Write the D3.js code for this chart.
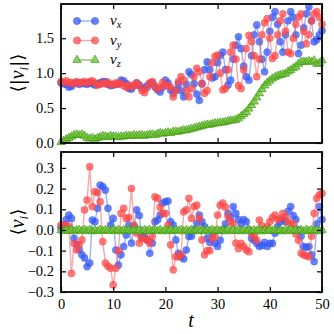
<!DOCTYPE html>
<html lang="en">
<head>
  <meta charset="UTF-8" />
  <title>Velocity components</title>
  <script src="https://d3js.org/d3.v7.min.js"></script>
  <style>
    body, html { margin: 0; padding: 0; background: #fff; }
    svg { display: block; }
    text { font-family: "Liberation Serif", "DejaVu Serif", serif; }
  </style>
</head>
<body>
  <svg id="chart" width="334" height="334"></svg>
  <script>
    // time grid (one sample every half unit)
    const times = d3.range(0, 50.01, 0.5);

    // top panel: <|v_i|>
    const absVx = [0.86,0.85,0.84,0.80,0.81,0.85,0.86,0.84,0.86,0.85,
      0.84,0.86,0.85,0.83,0.85,0.86,0.88,0.88,0.84,0.82,
      0.83,0.84,0.85,0.90,0.89,0.85,0.78,0.77,0.82,0.86,
      0.83,0.79,0.78,0.82,0.85,0.86,0.80,0.76,0.73,0.80,
      0.90,0.86,0.76,0.71,0.76,0.85,0.75,0.66,0.84,1.02,
      0.98,0.85,0.70,0.61,0.85,1.05,1.16,1.05,0.93,0.95,
      1.15,1.25,1.30,1.05,0.83,0.90,1.20,1.40,1.52,1.35,
      1.10,0.95,0.90,1.25,1.55,1.69,1.45,1.20,1.02,1.30,
      1.60,1.80,1.88,1.70,1.45,1.30,1.55,1.75,1.88,1.80,
      1.55,1.28,1.40,1.65,1.85,1.95,1.75,1.45,1.48,1.55,1.61];
    const absVy = [0.88,0.87,0.89,0.86,0.87,0.85,0.88,0.86,0.87,0.88,
      0.86,0.88,0.89,0.86,0.83,0.84,0.86,0.85,0.87,0.84,
      0.84,0.86,0.84,0.86,0.82,0.80,0.83,0.80,0.83,0.86,
      0.82,0.75,0.72,0.79,0.86,0.88,0.82,0.77,0.80,0.87,
      0.83,0.82,0.80,0.66,0.75,0.88,0.95,0.90,0.75,0.66,
      0.78,0.95,1.07,1.02,0.85,0.71,0.75,0.95,1.15,1.24,
      1.26,1.00,0.76,0.78,1.05,1.30,1.40,1.20,0.82,0.78,
      1.05,1.35,1.54,1.45,1.25,0.95,1.20,1.55,1.72,1.78,
      1.50,1.21,1.25,1.55,1.75,1.85,1.60,1.30,1.28,1.50,
      1.70,1.80,1.85,1.60,1.42,1.55,1.75,1.85,1.88,1.80,1.70];
    const absVz = [0.02,0.04,0.06,0.08,0.10,0.12,0.13,0.12,0.13,0.11,
      0.08,0.07,0.08,0.06,0.08,0.09,0.11,0.10,0.09,0.11,
      0.10,0.10,0.09,0.10,0.10,0.11,0.11,0.11,0.12,0.11,
      0.12,0.12,0.11,0.12,0.13,0.13,0.12,0.14,0.15,0.14,
      0.15,0.16,0.15,0.17,0.17,0.17,0.18,0.19,0.19,0.20,
      0.21,0.22,0.23,0.24,0.25,0.26,0.27,0.27,0.28,0.29,
      0.29,0.30,0.30,0.31,0.32,0.33,0.33,0.34,0.36,0.39,
      0.42,0.45,0.50,0.55,0.60,0.66,0.72,0.78,0.83,0.87,
      0.90,0.93,0.95,0.97,0.98,0.99,1.00,1.03,1.05,1.08,
      1.10,1.14,1.17,1.17,1.17,1.18,1.17,1.19,1.14,1.15,1.19];

    // bottom panel: <v_i>
    const meanVx = [0.010,0.024,0.050,0.072,0.056,-0.040,-0.070,-0.095,-0.120,-0.135,
      -0.177,-0.160,0.048,0.040,0.105,0.217,0.210,0.193,0.105,0.024,
      0.056,-0.097,-0.170,-0.120,-0.080,-0.024,0.024,-0.064,0.016,0.097,
      0.070,-0.032,-0.030,-0.048,-0.113,-0.064,0.040,0.048,0.072,0.130,
      0.137,0.140,0.040,0.024,-0.048,-0.113,-0.130,-0.140,-0.097,-0.032,
      -0.030,0.000,0.032,0.072,0.040,0.016,-0.040,-0.060,-0.020,-0.064,
      -0.080,-0.050,0.000,0.030,0.080,0.060,0.113,0.080,0.050,0.030,
      0.050,0.040,0.000,-0.040,-0.050,-0.065,-0.080,-0.075,-0.060,-0.080,
      -0.065,-0.065,-0.016,0.016,0.040,0.050,0.040,0.090,0.113,0.070,
      0.050,0.000,-0.030,-0.080,-0.085,-0.080,-0.120,-0.153,0.030,0.113,0.050];
    const meanVy = [0.024,0.020,0.024,0.018,-0.210,-0.065,-0.097,-0.072,-0.048,0.097,
      0.145,0.306,0.113,0.185,0.180,0.137,-0.056,-0.160,-0.175,-0.185,
      -0.266,-0.185,-0.100,0.080,0.105,0.056,0.060,0.200,0.024,-0.016,
      -0.064,-0.040,-0.040,-0.050,-0.064,-0.032,0.160,0.153,0.110,0.080,
      0.080,0.024,-0.072,-0.193,-0.129,-0.130,-0.120,0.088,0.097,0.153,
      0.056,0.113,0.120,0.056,-0.048,-0.120,-0.100,-0.100,-0.040,-0.030,
      0.072,0.120,0.130,0.110,0.065,0.040,0.030,-0.064,-0.090,-0.065,
      -0.080,-0.097,-0.105,-0.016,-0.030,-0.050,0.048,0.020,0.000,0.016,
      0.040,0.060,0.072,0.050,0.055,0.080,0.064,0.040,0.030,0.030,
      -0.020,-0.050,-0.113,-0.120,-0.125,-0.130,-0.030,0.080,0.153,0.170,0.177];
    const meanVz = [0.002,-0.003,0.004,-0.002,0.003,-0.004,0.002,0.003,-0.003,0.004,
      -0.002,0.003,-0.004,0.002,-0.003,0.004,-0.002,0.003,0.001,-0.003,
      0.004,-0.002,0.003,-0.004,0.002,-0.001,0.003,-0.003,0.004,-0.002,
      0.002,-0.004,0.003,-0.002,0.004,-0.003,0.002,-0.002,0.003,-0.004,
      0.003,-0.002,0.004,-0.003,0.002,-0.001,0.003,-0.004,0.002,-0.003,
      0.004,-0.002,0.003,-0.003,0.002,-0.004,0.003,-0.002,0.004,-0.003,
      0.002,-0.002,0.003,-0.004,0.004,-0.002,0.003,-0.003,0.002,-0.004,
      0.003,-0.002,0.004,-0.003,0.002,-0.002,0.003,-0.004,0.002,-0.003,
      0.004,-0.002,0.003,-0.003,0.002,-0.004,0.003,-0.002,0.004,-0.003,
      0.002,-0.002,0.003,-0.004,0.004,-0.002,0.003,-0.003,0.002,-0.004,0.003];

    const xTicks = [0, 10, 20, 30, 40, 50];
    const topTicks = [0, 0.5, 1.0, 1.5];
    const bottomTicks = [-0.3, -0.2, -0.1, 0.0, 0.1, 0.2, 0.3];
    const legendNames = ["x", "y", "z"];

    const blue = { line: "rgba(60,100,240,0.5)", fill: "rgba(55,90,245,0.75)", stroke: "#3a5ff0" };
    const red = { line: "rgba(250,80,80,0.5)", fill: "rgba(255,70,70,0.72)", stroke: "#f24a4a" };
    const green = { line: "rgba(90,170,40,0.7)", fill: "rgba(120,200,60,0.8)", stroke: "#3e9a14" };

    const svg = d3.select("#chart");
    const left = 61, right = 322;

    const x = d3.scaleLinear().domain([0, 50]).range([left, right]);
    const yTop = d3.scaleLinear().domain([0, 1.99]).range([143, 4]);
    const yBot = d3.scaleLinear().domain([-0.3, 0.377]).range([292, 152]);

    const triangle = d3.symbol().type(d3.symbolTriangle).size(30);

    function drawSeries(g, y, vals, col, marker) {
      const pts = vals.map((v, i) => [x(times[i]), y(v)]);
      g.append("path")
        .attr("d", d3.line()(pts))
        .attr("fill", "none")
        .attr("stroke", col.line)
        .attr("stroke-width", 1.4);
      if (marker === "circle") {
        g.selectAll(null).data(pts).join("circle")
          .attr("cx", d => d[0]).attr("cy", d => d[1]).attr("r", 3.6)
          .attr("fill", col.fill).attr("stroke", col.stroke).attr("stroke-opacity", 0.6)
          .attr("stroke-width", 0.6);
      } else {
        g.selectAll(null).data(pts).join("path")
          .attr("d", triangle)
          .attr("transform", d => `translate(${d[0]},${d[1] + 0.6})`)
          .attr("fill", col.fill).attr("stroke", col.stroke).attr("stroke-width", 0.7);
      }
    }

    function drawFrame(y, yticks, fmt, showX) {
      const y0 = y.range()[0], y1 = y.range()[1];
      const ax = svg.append("g");
      // inward ticks on all four sides
      ax.append("g").attr("transform", `translate(0,${y0})`)
        .call(d3.axisBottom(x).tickValues(xTicks).tickSize(-5).tickPadding(7)
          .tickFormat(showX ? d3.format("d") : () => ""));
      ax.append("g").attr("transform", `translate(0,${y1})`)
        .call(d3.axisTop(x).tickValues(xTicks).tickSize(-5).tickFormat(() => ""));
      ax.append("g").attr("transform", `translate(${left},0)`)
        .call(d3.axisLeft(y).tickValues(yticks).tickSize(-5).tickPadding(7).tickFormat(fmt));
      ax.append("g").attr("transform", `translate(${right},0)`)
        .call(d3.axisRight(y).tickValues(yticks).tickSize(-5).tickFormat(() => ""));
      ax.selectAll(".domain").remove();
      ax.selectAll(".tick line").attr("stroke", "#000").attr("stroke-width", 1.2);
      ax.selectAll(".tick text").attr("font-size", 14.5).attr("fill", "#000")
        .attr("font-family", "Liberation Serif, DejaVu Serif, serif");
      svg.append("rect")
        .attr("x", left).attr("y", y1).attr("width", right - left).attr("height", y0 - y1)
        .attr("fill", "none").attr("stroke", "#000").attr("stroke-width", 1.8);
    }

    // top panel
    const gTop = svg.append("g");
    drawSeries(gTop, yTop, absVx, blue, "circle");
    drawSeries(gTop, yTop, absVy, red, "circle");
    drawSeries(gTop, yTop, absVz, green, "triangle");
    drawFrame(yTop, topTicks, d3.format(".1f"), false);

    // bottom panel
    const gBot = svg.append("g");
    drawSeries(gBot, yBot, meanVx, blue, "circle");
    drawSeries(gBot, yBot, meanVy, red, "circle");
    drawSeries(gBot, yBot, meanVz, green, "triangle");
    drawFrame(yBot, bottomTicks, d3.format(".1f"), true);

    // legend
    const cols = [blue, red, green];
    const leg = svg.append("g");
    legendNames.forEach((n, i) => {
      const ly = 21 + i * 19.5;
      const c = cols[i];
      leg.append("line").attr("x1", 77).attr("x2", 95).attr("y1", ly).attr("y2", ly)
        .attr("stroke", c.line).attr("stroke-width", 1.4);
      [77, 95].forEach(mx => {
        if (i < 2) {
          leg.append("circle").attr("cx", mx).attr("cy", ly).attr("r", 3.6)
            .attr("fill", c.fill).attr("stroke", c.stroke).attr("stroke-width", 0.6);
        } else {
          leg.append("path").attr("d", triangle).attr("transform", `translate(${mx},${ly})`)
            .attr("fill", c.fill).attr("stroke", c.stroke).attr("stroke-width", 0.7);
        }
      });
      const t = leg.append("text").attr("x", 110).attr("y", ly + 4)
        .attr("font-size", 15).attr("font-style", "italic");
      t.append("tspan").text("v");
      t.append("tspan").attr("font-size", 10.5).attr("dy", 3).text(n);
    });

    // axis titles
    function yTitle(cy, abs) {
      const t = svg.append("text")
        .attr("transform", `translate(24,${cy}) rotate(-90)`)
        .attr("text-anchor", "middle").attr("font-size", 20);
      t.append("tspan").attr("font-family", "DejaVu Serif, serif").attr("font-size", 18).text(abs ? "\u27E8|" : "\u27E8");
      t.append("tspan").attr("font-style", "italic").text("v");
      t.append("tspan").attr("font-style", "italic").attr("font-size", 13).attr("dy", 4).text("i");
      t.append("tspan").attr("font-family", "DejaVu Serif, serif").attr("font-size", 18).attr("dy", -4).text(abs ? "|\u27E9" : "\u27E9");
    }
    yTitle(73, true);
    yTitle(222, false);

    svg.append("text").attr("x", 191).attr("y", 327).attr("text-anchor", "middle")
      .attr("font-size", 20).attr("font-style", "italic").text("t");
  </script>
</body>
</html>
